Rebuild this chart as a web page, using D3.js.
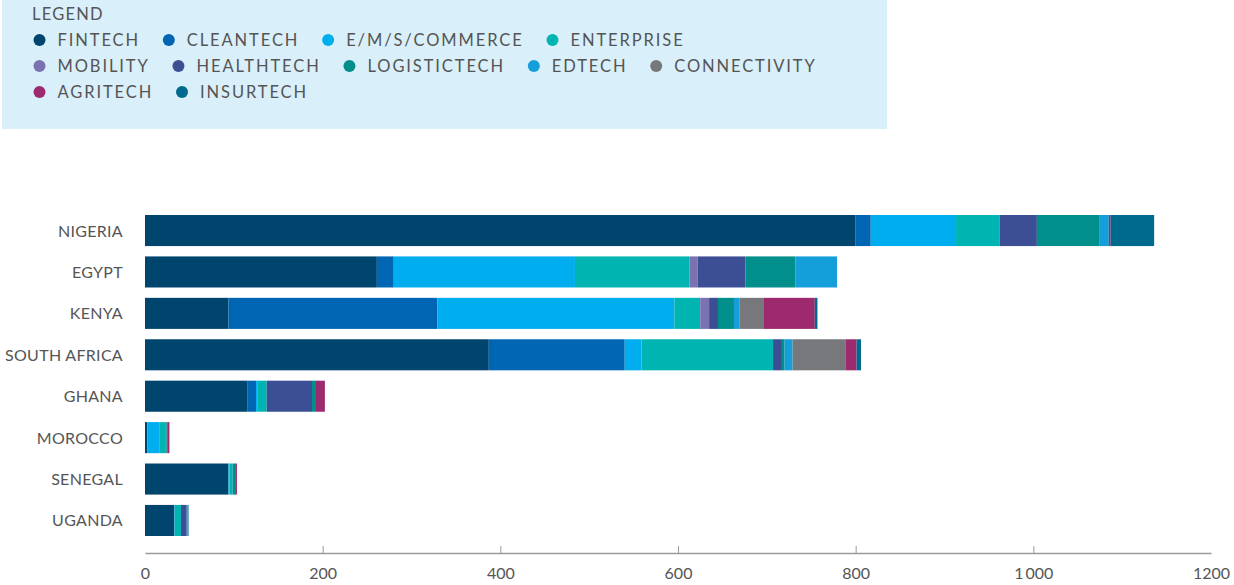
<!DOCTYPE html>
<html>
<head>
<meta charset="utf-8">
<script src="https://cdn.jsdelivr.net/npm/d3@7/dist/d3.min.js"></script>
<style>
  html, body { margin: 0; padding: 0; background: #fff; }
  svg { display: block; }
  text { font-family: Lato, "Open Sans", sans-serif; }
</style>
</head>
<body>
<svg id="chart" width="1234" height="585"></svg>
<script>
const countries = ["NIGERIA", "EGYPT", "KENYA", "SOUTH AFRICA", "GHANA", "MOROCCO", "SENEGAL", "UGANDA"];
const sectors = ["FINTECH", "CLEANTECH", "E/M/S/COMMERCE", "ENTERPRISE", "MOBILITY", "HEALTHTECH", "LOGISTICTECH", "EDTECH", "CONNECTIVITY", "AGRITECH", "INSURTECH"];
const colors = ["#00456e", "#0066b3", "#00aeef", "#00b5b1", "#7a72b1", "#3c4f95", "#008f8a", "#159fda", "#77787b", "#9d2a6f", "#006a8e"];

// values per sector, in country order
const fintech      = [800, 261,  94, 387, 115,  2.5, 94, 33];
const cleantech    = [ 17,  19, 235, 153,  10,  0,    0,  0];
const emsCommerce  = [ 96, 204, 267,  19,   2, 13.5,  1,  0.5];
const enterprise   = [ 49, 129,  29, 148,  10,  7,  3.5,  7];
const mobility     = [  0,   9,  10,   0,   0,  0,    0,  0];
const healthtech   = [ 42,  54,  10,  10,  51,  1,    0,  6.5];
const logistictech = [ 70,  56,  18,   3, 4.5,  1,    3,  0];
const edtech       = [ 11,  47,   6,   9,   0,  0,    0,  1];
const connectivity = [  0,   0,  27,  60,   0,  0,    0,  0];
const agritech     = [  2,   0,  58,  12,  10,  2.5,  2,  0];
const insurtech    = [ 49,   0,   3,   5,   0,  0,    0,  1];

const tickValues = [0, 200, 400, 600, 800, 1000, 1200];
const tickLabels = ["0", "200", "400", "600", "800", "1\u2009000", "1200"];

const seriesValues = [fintech, cleantech, emsCommerce, enterprise, mobility, healthtech, logistictech, edtech, connectivity, agritech, insurtech];

const table = countries.map((c, i) => {
  const row = { country: c };
  sectors.forEach((s, j) => { row[s] = seriesValues[j][i]; });
  return row;
});

const svg = d3.select("#chart");

// Legend
const legendG = svg.append("g");
legendG.append("rect").attr("x", 2).attr("y", 0).attr("width", 885).attr("height", 129).attr("fill", "#d9eff9");
legendG.append("text").attr("x", 32).attr("y", 20).text("LEGEND")
  .attr("font-size", 16.5).attr("fill", "#555").attr("letter-spacing", 1.2);

const rows = [[0,1,2,3],[4,5,6,7,8],[9,10]];
const rowY = [40, 66, 92];
rows.forEach((r, ri) => {
  let x = 39.5;
  r.forEach(idx => {
    const g = legendG.append("g");
    g.append("circle").attr("cx", x).attr("cy", rowY[ri]).attr("r", 6).attr("fill", colors[idx]);
    const t = g.append("text").attr("x", x + 18).attr("y", rowY[ri] + 6)
      .attr("font-size", 16.5).attr("fill", "#555").attr("letter-spacing", 1.9).text(sectors[idx]);
    const w = t.node().getComputedTextLength();
    x = x + 18 + w + 28.8;
  });
});

// Scales
const x = d3.scaleLinear().domain([0, 1200]).range([145, 1211]);
const y = d3.scaleBand().domain(countries).range([215, 536]).paddingInner(0.25).paddingOuter(0);

const stack = d3.stack().keys(sectors);
const stacked = stack(table);

svg.append("g").selectAll("g").data(stacked).join("g")
  .attr("fill", (d, i) => colors[i])
  .selectAll("rect").data(d => d).join("rect")
  .attr("x", d => x(d[0]))
  .attr("width", d => Math.max(0, x(d[1]) - x(d[0])))
  .attr("y", d => y(d.data.country))
  .attr("height", y.bandwidth());

// Category labels
svg.append("g").selectAll("text").data(countries).join("text")
  .attr("x", 123).attr("y", d => y(d) + y.bandwidth() / 2 + 6)
  .attr("text-anchor", "end").attr("font-size", 16).attr("fill", "#555")
  .attr("letter-spacing", 0.3)
  .text(d => d);

// X axis
const axisY = 553;
const axis = d3.axisBottom(x).tickValues(tickValues).tickSize(0)
  .tickFormat((d, i) => tickLabels[i]).tickPadding(15);
const ag = svg.append("g").attr("transform", `translate(0,${axisY})`).call(axis);
ag.select(".domain").attr("stroke", "#9a9a9a").attr("stroke-width", 1.5);
ag.selectAll(".tick text").attr("font-size", 16).attr("fill", "#555").attr("font-family", "Lato, sans-serif");
ag.selectAll(".tick").filter(d => d > 0 && d < 1200).append("line")
  .attr("y1", 0).attr("y2", -7).attr("stroke", "#9a9a9a").attr("stroke-width", 1);
</script>
</body>
</html>
